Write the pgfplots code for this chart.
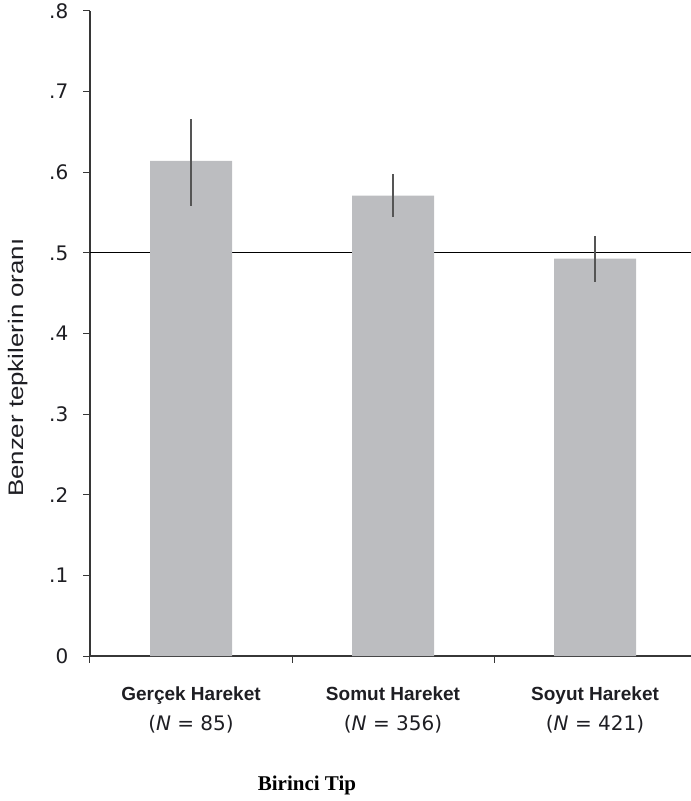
\documentclass[border=0pt]{standalone}
\usepackage{fontspec}
\setmainfont{DejaVu Sans}
\newfontfamily\arialf{Liberation Sans}
\newfontfamily\timesf{Liberation Serif}
\newfontfamily\dvf{DejaVu Sans}
\usepackage{graphicx}
\usepackage{pgfplots}
\pgfplotsset{compat=1.18}
\definecolor{barc}{RGB}{188,189,192}
\definecolor{errc}{RGB}{85,85,85}
\definecolor{axc}{RGB}{55,55,55}
\definecolor{txt}{RGB}{30,30,35}
\begin{document}
\begin{tikzpicture}
\path[use as bounding box] (-90bp,-145bp) rectangle (601bp,656bp);
\begin{axis}[
  at={(0,0)}, anchor=south west,
  scale only axis, width=601bp, height=645bp,
  xmin=-0.5, xmax=2.475, ymin=0, ymax=0.8,
  axis lines=left,
  axis line style={-, draw=axc, line width=1.1bp},
  tick style={draw=axc, line width=1bp},
  tick align=outside,
  major tick length=6.5bp,
  ytick={0,0.1,0.2,0.3,0.4,0.5,0.6,0.7,0.8},
  yticklabels={0,.1,.2,.3,.4,.5,.6,.7,.8},
  yticklabel style={font=\dvf\fontsize{20bp}{20bp}\selectfont, text=txt, inner sep=0pt, anchor=east, xshift=-15bp},
  xtick={-0.5,0.5,1.5},
  xticklabels={},
  extra x ticks={0,1,2},
  extra x tick labels={
    {{\arialf\bfseries\fontsize{19bp}{29bp}\selectfont Gerçek Hareket}\\{\dvf\fontsize{20bp}{29.5bp}\selectfont (\textit{N} = 85)}},
    {{\arialf\bfseries\fontsize{19bp}{29bp}\selectfont Somut Hareket}\\{\dvf\fontsize{20bp}{29.5bp}\selectfont (\textit{N} = 356)}},
    {{\arialf\bfseries\fontsize{19bp}{29bp}\selectfont Soyut Hareket}\\{\dvf\fontsize{20bp}{29.5bp}\selectfont (\textit{N} = 421)}}
  },
  extra x tick style={major tick length=0pt},
  xticklabel style={align=center, text=txt, inner sep=0pt, anchor=north, yshift=-31bp, font=\fontsize{20bp}{29.5bp}\selectfont},
  ylabel={\scalebox{1.23}[1]{Benzer tepkilerin oranı}},
  ylabel style={font=\arialf\fontsize{21bp}{21bp}\selectfont, text=txt, inner sep=0pt,
    at={(axis description cs:-0.137,0.447)}, anchor=north},
]
\addplot[black, line width=1.2bp, forget plot] coordinates {(-0.5,0.5) (2.475,0.5)};
\addplot[ybar, bar width=82bp, fill=barc, draw=none,
  error bars/.cd, y dir=both, y explicit,
  error bar style={draw=errc, line width=1.5bp}, error mark=none]
  coordinates {
    (0,0.614) += (0,0.052) -= (0,0.056)
    (1,0.571) += (0,0.027) -= (0,0.026)
    (2,0.493) += (0,0.028) -= (0,0.029)
  };
\end{axis}
\node[anchor=base, font=\timesf\bfseries\fontsize{21bp}{21bp}\selectfont, text=black] at (217bp,-134bp) {Birinci Tip};
\end{tikzpicture}
\end{document}
